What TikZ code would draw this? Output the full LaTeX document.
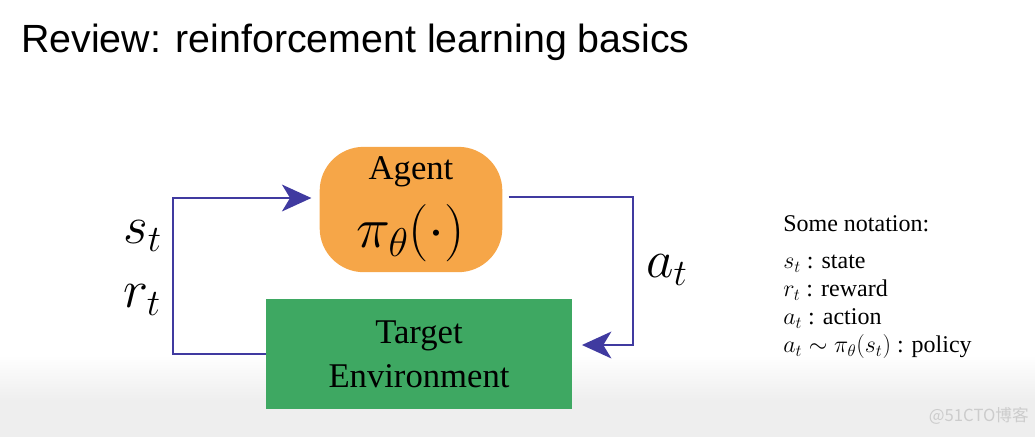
\RequirePackage{fix-cm}
\documentclass[tikz,border=0pt]{standalone}
\usepackage{amsmath}
\usepackage{fontspec}
\setmainfont{Liberation Serif}
\setsansfont{Liberation Sans}
\newfontfamily\cjkfont{Noto Sans CJK SC}
\usetikzlibrary{arrows.meta, calc}
\definecolor{agentorange}{RGB}{246,166,72}
\definecolor{envgreen}{RGB}{62,168,98}
\definecolor{loopblue}{RGB}{64,58,160}

\begin{document}
\begin{tikzpicture}[
    x=0.75pt, y=-0.75pt,
    box/.style={align=center, inner sep=0pt, font=\fontsize{26}{33}\selectfont},
    agentbox/.style={box, fill=agentorange, rounded corners=33pt,
                     minimum width=137pt, minimum height=94pt},
    envbox/.style={box, fill=envgreen, minimum width=229pt, minimum height=82pt},
    sym/.style={anchor=base west, inner sep=0pt, font=\fontsize{40}{40}\selectfont},
    arrow/.style={-{Stealth[length=22pt, width=20pt, inset=6pt]},
                  line width=2.2pt, loopblue},
  ]
    \useasboundingbox (0,0) rectangle (1035,437);
    % bottom fade of the frame
    \shade[top color=white, bottom color=gray!13] (0,355) rectangle (1035,400);
    \fill[gray!13] (0,400) rectangle (1035,437);

    % Title
    \node[anchor=base west, inner sep=0pt, font=\sffamily\fontsize{29.5}{29.5}\selectfont]
      (title) at (21,52) {Review: reinforcement learning basics};

    % Agent
    \node[agentbox] (agent) at (411,209.5) {Agent\\[12pt]
      {\fontsize{43}{43}\selectfont$\pi_\theta(\cdot)$}};

    % Environment
    \node[envbox] (env) at (419,354) {Target\\Environment};

    % Loop
    \draw[arrow] (env.west) -| (173,198) -- ($(agent.west)+(-8,-11.5)$);
    \draw[arrow] ($(agent.east)+(6,-12.5)$) -| (633,345) -- ($(env.east)+(10,-9)$);

    % Signals
    \node[sym] (st) at (123,243) {$s_t$};
    \node[sym] (rt) at (123,307) {$r_t$};
    \node[sym] (at) at (646,277) {$a_t$};

    % Notation
    \node[anchor=north west, inner sep=0pt, align=left,
          font=\fontsize{18}{21}\selectfont] (notation) at (783,215) {
      Some notation:\\[7pt]
      $s_t$ : state\\
      $r_t$ : reward\\
      $a_t$ : action\\
      $a_t \sim \pi_\theta(s_t)$ : policy
    };

    % Watermark
    \node[anchor=east, inner sep=0pt, text=gray!40, font=\cjkfont\fontsize{12.5}{12.5}\selectfont]
      (mark) at (1029,416) {@51CTO博客};
  \end{tikzpicture}
\end{document}
